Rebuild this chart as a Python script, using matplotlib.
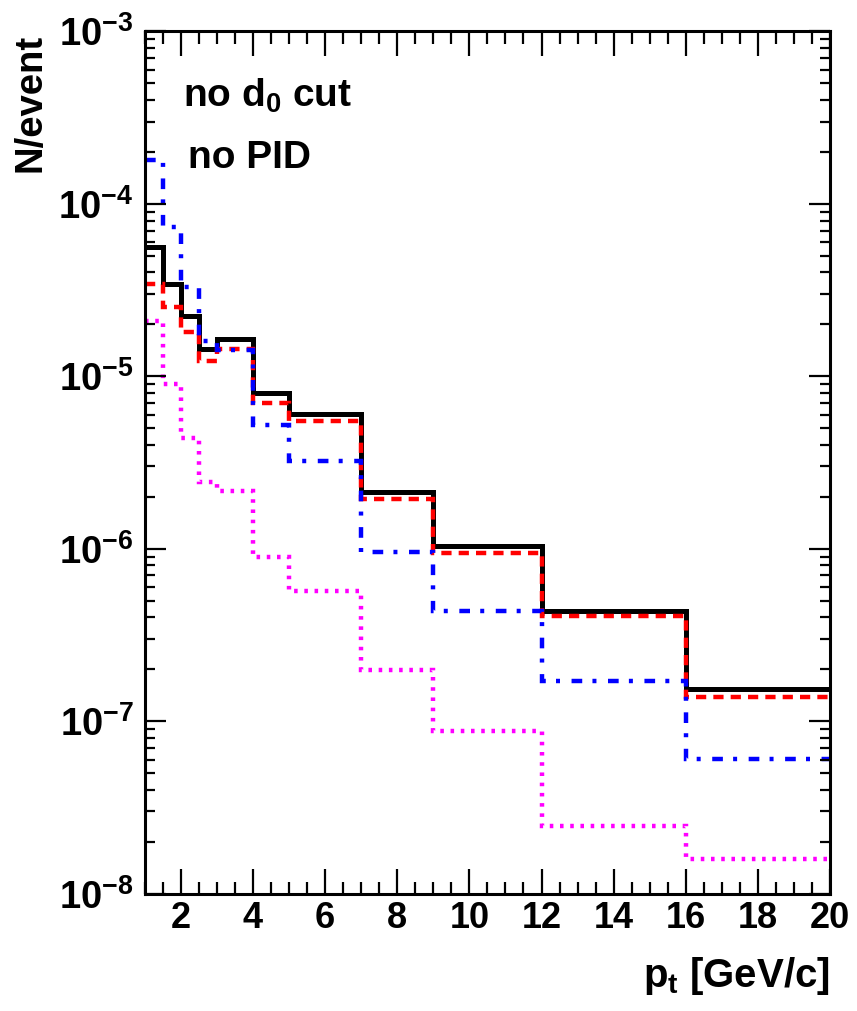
import numpy as np
import matplotlib
matplotlib.use("Agg")
import matplotlib.pyplot as plt
from matplotlib.ticker import MultipleLocator, LogLocator, NullFormatter

plt.rcParams['font.family'] = ['Liberation Sans', 'DejaVu Sans']
plt.rcParams['font.weight'] = 'bold'
plt.rcParams['mathtext.fontset'] = 'custom'
plt.rcParams['mathtext.rm'] = 'Liberation Sans:bold'
plt.rcParams['mathtext.it'] = 'Liberation Sans:bold'
plt.rcParams['mathtext.bf'] = 'Liberation Sans:bold'

# pt bin edges [GeV/c]
edges = [1, 1.5, 2, 2.5, 3, 4, 5, 7, 9, 12, 16, 20]

# yields per event in each pt bin
black_vals = [5.6e-5, 3.44e-5, 2.23e-5, 1.44e-5, 1.64e-5, 7.96e-6, 6.04e-6,
              2.14e-6, 1.04e-6, 4.34e-7, 1.54e-7]
red_vals = [3.44e-5, 2.53e-5, 1.81e-5, 1.23e-5, 1.44e-5, 7.0e-6, 5.5e-6,
            1.94e-6, 9.4e-7, 4.09e-7, 1.39e-7]
blue_vals = [1.8e-4, 7.3e-5, 3.29e-5, 1.6e-5, 1.42e-5, 5.21e-6, 3.23e-6,
             9.57e-7, 4.34e-7, 1.72e-7, 6.03e-8]
magenta_vals = [2.09e-5, 8.97e-6, 4.36e-6, 2.45e-6, 2.17e-6, 9.0e-7, 5.71e-7,
                1.97e-7, 8.77e-8, 2.47e-8, 1.59e-8]

fig = plt.figure(figsize=(8.57, 10.11), dpi=100)
ax = fig.add_axes([0.169, 0.116, 0.7995, 0.853])

lw = 3.2
ax.stairs(black_vals, edges, baseline=None, color='black', lw=lw + 0.4)
ax.stairs(red_vals, edges, baseline=None, color='red', lw=lw,
          linestyle=(0, (2.3, 1.6)))
ax.stairs(blue_vals, edges, baseline=None, color='blue', lw=lw,
          linestyle=(0, (2.4, 2.3, 0.9, 2.6)))
ax.stairs(magenta_vals, edges, baseline=None, color='magenta', lw=lw,
          linestyle=(0, (0.8, 1.5)))

ax.set_yscale('log')
ax.set_xlim(1, 20)
ax.set_ylim(1e-8, 1e-3)

ax.xaxis.set_major_locator(MultipleLocator(2))
ax.xaxis.set_minor_locator(MultipleLocator(0.5))
ax.yaxis.set_major_locator(LogLocator(base=10, numticks=10))
ax.yaxis.set_minor_locator(LogLocator(base=10, subs=np.arange(2, 10), numticks=10))
ax.yaxis.set_minor_formatter(NullFormatter())

ax.tick_params(axis='both', which='both', direction='in', top=True, right=True,
               width=1.6)
ax.tick_params(axis='x', which='major', length=18, pad=5, labelsize=26)
ax.tick_params(axis='x', which='minor', length=9)
ax.tick_params(axis='y', which='major', length=15, pad=8, labelsize=27.5)
ax.tick_params(axis='y', which='minor', length=7.5)
for sp in ax.spines.values():
    sp.set_linewidth(2.2)

ax.text(0.055, 0.925, r'no $d_0$ cut', transform=ax.transAxes, fontsize=28,
        ha='left', va='center')
ax.text(0.063, 0.853, 'no PID', transform=ax.transAxes, fontsize=28,
        ha='left', va='center')

fig.text(0.9685, 0.035, r'$p_t$ [GeV/c]', fontsize=29, ha='right', va='center')
fig.text(0.036, 0.966, 'N/event', fontsize=27.5, rotation=90, ha='center', va='top')

fig.savefig('out.png', dpi=100)
